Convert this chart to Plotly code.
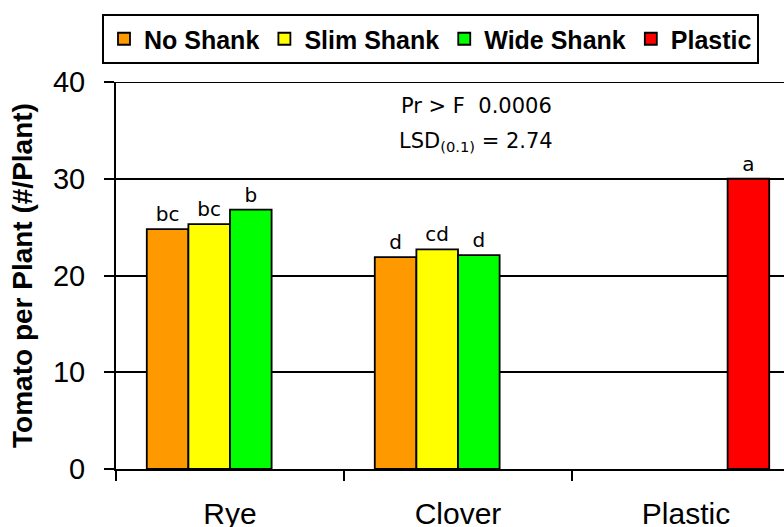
import plotly.graph_objects as go

categories = ["Rye", "Clover", "Plastic"]
series_names = ["No Shank", "Slim Shank", "Wide Shank", "Plastic"]
no_shank = [24.8, 21.9, None]
slim_shank = [25.3, 22.7, None]
wide_shank = [26.8, 22.1, None]
plastic = [None, None, 30.0]
letters_no = ["bc", "d", ""]
letters_slim = ["bc", "cd", ""]
letters_wide = ["b", "d", ""]
letters_plastic = ["", "", "a"]
colors = ["#FF9900", "#FFFF00", "#00FF00", "#FF0000"]

L, T, B = 116, 82, 58
PW = 784 - L
PH = 527 - T - B

fig = go.Figure()
for name, vals, txt, col in zip(series_names,
                                [no_shank, slim_shank, wide_shank, plastic],
                                [letters_no, letters_slim, letters_wide, letters_plastic],
                                colors):
    fig.add_trace(go.Bar(
        name=name, x=categories, y=vals, text=txt,
        textposition="outside", cliponaxis=False,
        textfont=dict(family="DejaVu Sans", size=20, color="black"),
        marker=dict(color=col, line=dict(color="black", width=1.8)),
    ))

fig.update_layout(
    width=784, height=527,
    margin=dict(l=L, r=0, t=T, b=B, autoexpand=False),
    plot_bgcolor="white", paper_bgcolor="white",
    barmode="group", bargap=0.27, bargroupgap=0,
    font=dict(family="Liberation Sans, Arial", color="black"),
    legend=dict(orientation="h", xref="container", yref="container",
                x=102 / 784, y=1 - 14 / 527, xanchor="left", yanchor="top",
                bgcolor="white", bordercolor="black", borderwidth=2,
                font=dict(size=25, family="Liberation Sans, Arial", weight="bold"),
                itemwidth=30, traceorder="normal", tracegroupgap=0),
    showlegend=True,
)
fig.update_xaxes(range=[-0.5, -0.5 + PW / 228], tickson="boundaries",
                 ticks="outside", ticklen=10, tickcolor="black", tickwidth=1.5,
                 showline=True, linecolor="black", linewidth=2,
                 tickfont=dict(size=30), ticklabelstandoff=17,
                 showgrid=False, fixedrange=True, automargin=False)
fig.update_yaxes(range=[0, 40], dtick=10, ticks="outside", ticklen=10,
                 tickcolor="black", tickwidth=1.5,
                 showline=True, linecolor="black", linewidth=2,
                 showgrid=True, gridcolor="black", gridwidth=1.5,
                 zeroline=False, tickfont=dict(size=29), ticklabelstandoff=13,
                 automargin=False,
                 title=dict(text="Tomato per Plant (#/Plant)",
                            font=dict(size=28, weight="bold"), standoff=12))
fig.add_shape(type="line", xref="paper", yref="y", x0=0, x1=1, y0=40, y1=40,
              line=dict(color="black", width=2))
fig.add_annotation(xref="paper", yref="paper", x=(476 - L) / PW, y=(469 - 106) / PH,
                   xanchor="center", yanchor="middle",
                   text="Pr > F  0.0006", showarrow=False,
                   font=dict(family="DejaVu Sans", size=21, color="black"))
fig.add_annotation(xref="paper", yref="paper", x=(476 - L) / PW, y=(469 - 142) / PH,
                   xanchor="center", yanchor="middle",
                   text="LSD<sub>(0.1)</sub> = 2.74", showarrow=False,
                   font=dict(family="DejaVu Sans", size=21, color="black"))
fig.write_html("out.html", config={"displayModeBar": False},
               post_script="document.body.style.margin='0px';")
